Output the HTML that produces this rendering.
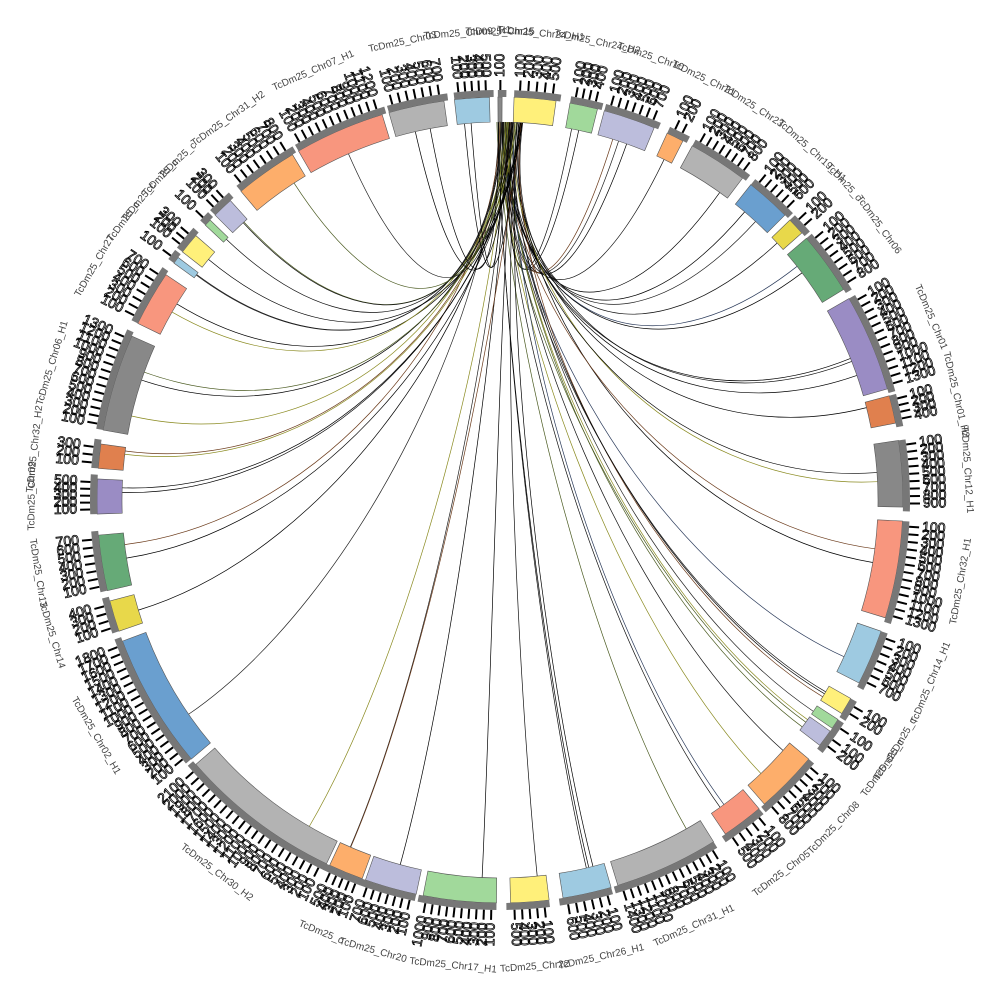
<!DOCTYPE html>
<html><head><meta charset="utf-8"><style>body{margin:0;background:#fff}svg{display:block}</style></head>
<body>
<svg id="s" width="1000" height="1000" viewBox="0 0 1000 1000" xmlns="http://www.w3.org/2000/svg"></svg>
<script>
var S=[[-0.3,0.3,'#888'],[2,8,'#fff07a'],[10,14,'#a1d99b'],[15,22.5,'#bcbddc'],[24.5,27,'#fdae6b'],[28.5,37,'#b3b3b3'],[38.5,45,'#6a9fcf'],[46,48.5,'#e8d84a'],[49.5,58.5,'#66aa77'],[60,74,'#9a8cc4'],[75,79,'#e0804e'],[81.5,91,'#888888'],[93,107,'#f8967e'],[109,117,'#9ecae1'],[119.5,122,'#fff07a'],[123,124.5,'#a1d99b'],[125,127.5,'#bcbddc'],[130,139,'#fdae6b'],[140,146,'#f8967e'],[148,163,'#b3b3b3'],[164,171,'#9ecae1'],[173,178.5,'#fff07a'],[180.5,191,'#a1d99b'],[192,199.5,'#bcbddc'],[200,205,'#fdae6b'],[205.5,229,'#b3b3b3'],[230,249.5,'#6a9fcf'],[251,255.5,'#e8d84a'],[257,265,'#66aa77'],[268,273,'#9a8cc4'],[274.5,278,'#e0804e'],[280,294,'#888888'],[296,304,'#f8967e'],[306,307,'#9ecae1'],[308,311,'#fff07a'],[313,314,'#a1d99b'],[315,318,'#bcbddc'],[320,329,'#fdae6b'],[330,343,'#f8967e'],[344,352,'#b3b3b3'],[353.5,358.5,'#9ecae1']];
var names=['TcDm25_Chr15','TcDm25_Chr24_H1','TcDm25_Chr24_H2','TcDm25_Chr10','TcDm25_Chr21','TcDm25_Chr23','TcDm25_Chr19_H1','TcDm25_c','TcDm25_Chr06','TcDm25_Chr01','TcDm25_Chr01_H2','TcDm25_Chr12_H1','TcDm25_Chr32_H1','TcDm25_Chr14_H1','TcDm25_c','TcDm25_c','TcDm25_c','TcDm25_Chr08','TcDm25_Chr05','TcDm25_Chr31_H1','TcDm25_Chr26_H1','TcDm25_Chr22','TcDm25_Chr17_H1','TcDm25_Chr20','TcDm25_c','TcDm25_Chr30_H2','TcDm25_Chr02_H1','TcDm25_Chr14','TcDm25_Chr13','TcDm25_Chr09','TcDm25_Chr32_H2','TcDm25_Chr06_H1','TcDm25_Chr27','TcDm25_c','TcDm25_c','TcDm25_c','TcDm25_c','TcDm25_Chr31_H2','TcDm25_Chr07_H1','TcDm25_Chr03','TcDm25_Chr09_H1'];
var C=500;function P(a,r){var t=a*Math.PI/180;return [C+r*Math.sin(t),C-r*Math.cos(t)];}
function arc(a0,a1,r0,r1){var p=P(a0,r1),q=P(a1,r1),u=P(a1,r0),v=P(a0,r0),l=(a1-a0)>180?1:0;
return 'M'+p+' A'+r1+','+r1+' 0 '+l+' 1 '+q+' L'+u+' A'+r0+','+r0+' 0 '+l+' 0 '+v+'Z';}
var h='';
var seed=7;function rnd(){seed=(seed*9301+49297)%233280;return seed/233280;}
var lc=['#000','#111','#222','#000','#4a5a20','#6b3a1a','#2a3a5a','#8a8a20'];
S.forEach(function(s,i){if(i<2)return;var n=1+Math.floor(rnd()*2.5);for(var k=0;k<n;k++){
var src=-0.5+rnd()*4;var d=s[0]+(s[1]-s[0])*(0.15+0.7*rnd());var a=P(src,378),b=P(d,378),m=P(d,170);
h+='<path d="M'+a+' C500,300 '+m+' '+b+'" fill="none" stroke="'+lc[Math.floor(rnd()*lc.length)]+'" stroke-width="0.7"/>';}});
S.forEach(function(s,i){
h+='<path d="'+arc(s[0],s[1],378,403)+'" fill="'+s[2]+'" stroke="#555" stroke-width="0.6"/>';
h+='<path d="'+arc(s[0],s[1]+0.6,403,410)+'" fill="#777"/>';
var w=s[1]-s[0],n=Math.max(1,Math.round(w/1.1));
for(var k=0;k<n;k++){var a=s[0]+(k+0.7)*w/(n+0.2);var p=P(a,410),q=P(a,420);
h+='<line x1="'+p[0]+'" y1="'+p[1]+'" x2="'+q[0]+'" y2="'+q[1]+'" stroke="#000" stroke-width="2"/>';
var t=P(a,423),rot=a-90,lab=String((k+1)*100);var flip=(a>0&&a<180);
var ang=flip?rot:rot+180;var anc=flip?'start':'end';
h+='<text x="'+t[0]+'" y="'+t[1]+'" transform="rotate('+ang+' '+t[0]+' '+t[1]+')" text-anchor="'+anc+'" dominant-baseline="middle" font-family="Liberation Sans,sans-serif" font-size="14" fill="none" stroke="#000" stroke-width="0.8">'+lab+'</text>';}
var mid=(s[0]+s[1])/2,pm=P(mid,468);var ra=mid;if(mid>90&&mid<270)ra=mid+180;
h+='<text x="'+pm[0]+'" y="'+pm[1]+'" transform="rotate('+ra+' '+pm[0]+' '+pm[1]+')" text-anchor="middle" dominant-baseline="middle" font-family="Liberation Sans,sans-serif" font-size="10" fill="#444">'+names[i]+'</text>';
});
document.getElementById('s').innerHTML=h;
</script>
</body></html>
